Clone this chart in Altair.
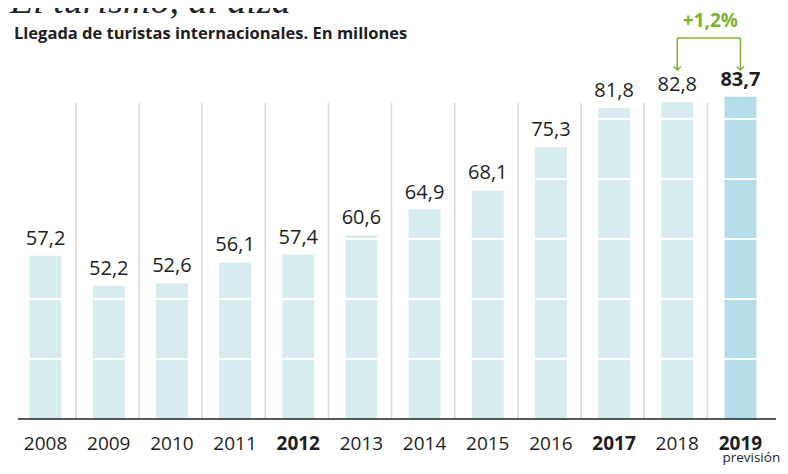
import json
import altair as alt
import pandas as pd

# ---------------- data ----------------
years = ["2008", "2009", "2010", "2011", "2012", "2013",
         "2014", "2015", "2016", "2017", "2018", "2019"]
values = [57.2, 52.2, 52.6, 56.1, 57.4, 60.6, 64.9, 68.1, 75.3, 81.8, 82.8, 83.7]
bold_years = ["2012", "2017", "2019"]
forecast_year = "2019"
compare_from = "2018"
forecast_note = "previsión"
change_label = "+1,2%"
title_text = "El turismo, al alza"
subtitle_text = "Llegada de turistas internacionales. En millones"
grid_values = [40, 50, 60, 70, 80]
y_base = 30
y_top = 90

df = pd.DataFrame({"year": years, "value": values})
df["label"] = [f"{v:.1f}".replace(".", ",") for v in values]
sep_df = df[df.year != years[0]]
grid_df = pd.DataFrame({"g": grid_values})
one = pd.DataFrame({"k": [0]})
pair_df = pd.DataFrame({"a": [compare_from], "b": [forecast_year]})
arrow_df = pd.DataFrame({"year": [compare_from, forecast_year]})
fc_df = pd.DataFrame({"year": [forecast_year], "note": [forecast_note], "chg": [change_label]})

W, H = 758, 360
GREEN = "#7ab32e"
DARK = "#1e1e1e"

xscale = alt.Scale(domain=years, paddingInner=0.494, paddingOuter=0.247)
yscale = alt.Scale(domain=[y_base, y_top], zero=False, nice=False)

bold_expr = (f"indexof({json.dumps(bold_years)}, datum.label) >= 0 ? 'bold' : 'normal'")

x_axis = alt.Axis(title=None, labelAngle=0, ticks=False, domain=False, grid=False,
                  labelFont="Open Sans", labelFontSize=19, labelColor=DARK,
                  labelPadding=15, labelFontWeight={"expr": bold_expr})

is_fc = f"datum.year == '{forecast_year}'"
not_fc = f"datum.year != '{forecast_year}'"

def X(field="year:O", **kw):
    return alt.X(field, scale=xscale, axis=x_axis, **kw)

bars = alt.Chart(df).transform_calculate(base=str(y_base)).mark_bar().encode(
    x=X(),
    y=alt.Y("value:Q", scale=yscale, axis=None),
    y2=alt.Y2("base:Q"),
    color=alt.condition(is_fc, alt.value("#b3dde9"), alt.value("#d6ecef")),
)

grid = alt.Chart(grid_df).mark_rule(color="white", strokeWidth=2).encode(
    y=alt.Y("g:Q", scale=yscale, axis=None),
    x=alt.value(0), x2=alt.value(W),
)

seps = alt.Chart(sep_df).mark_rule(color="#dadada", strokeWidth=1.5, xOffset=-17).encode(
    x=X(bandPosition=0),
    y=alt.value(44), y2=alt.value(H),
)

baseline = alt.Chart(one).mark_rule(color="#222", strokeWidth=1.5).encode(
    y=alt.value(H),
    x=alt.value(4), x2=alt.value(W + 4),
)

labels_normal = alt.Chart(df).transform_filter(not_fc).mark_text(
    baseline="alphabetic", dy=-11, fontSize=20, font="Open Sans", color=DARK
).encode(
    x=X(),
    y=alt.Y("value:Q", scale=yscale, axis=None),
    text="label:N",
)
labels_bold = alt.Chart(df).transform_filter(is_fc).mark_text(
    baseline="alphabetic", dy=-11, fontSize=20, font="Open Sans", color=DARK,
    fontWeight="bold"
).encode(
    x=X(),
    y=alt.Y("value:Q", scale=yscale, axis=None),
    text="label:N",
)

# bracket annotation
bracket_h = alt.Chart(pair_df).mark_rule(color=GREEN, strokeWidth=1.5).encode(
    x=X("a:O"),
    x2=alt.X2("b:O"),
    y=alt.value(-21),
)
bracket_v = alt.Chart(arrow_df).mark_rule(color=GREEN, strokeWidth=1.5).encode(
    x=X(),
    y=alt.value(-21), y2=alt.value(11),
)
arrows = alt.Chart(arrow_df).mark_point(
    shape="M-1,-1L0,0L1,-1", filled=False, color=GREEN, strokeWidth=1.5, size=50, opacity=1
).encode(
    x=X(),
    y=alt.value(11),
)
change_text = alt.Chart(fc_df).mark_text(
    font="Open Sans", fontSize=19, fontWeight="bold",
    color=GREEN, baseline="alphabetic", dx=-30
).encode(
    x=X(),
    y=alt.value(-32),
    text="chg:N",
)

note = alt.Chart(fc_df).mark_text(
    font="Open Sans", fontSize=13.5, color=DARK,
    align="left", baseline="alphabetic", dx=-18
).encode(
    x=X(),
    y=alt.value(403),
    text="note:N",
)

title = alt.Chart(one).mark_text(
    text=title_text, font="Liberation Serif", fontStyle="italic", fontSize=38,
    color="#222", align="left", baseline="alphabetic"
).encode(x=alt.value(-4), y=alt.value(-46))

subtitle = alt.Chart(one).mark_text(
    text=subtitle_text, font="Open Sans", fontWeight="bold", fontSize=16.5,
    color=DARK, align="left", baseline="alphabetic"
).encode(x=alt.value(0), y=alt.value(-20))

chart = alt.layer(
    bars, grid, seps, baseline, labels_normal, labels_bold,
    bracket_h, bracket_v, arrows, change_text, note, title, subtitle
).properties(
    width=W, height=H,
    background="white",
    autosize=alt.AutoSizeParams(type="none"),
    padding={"left": 6, "top": 51, "right": 8, "bottom": 47},
).configure_view(stroke=None)

chart.save("out.html", embed_options={"renderer": "svg", "actions": False})
